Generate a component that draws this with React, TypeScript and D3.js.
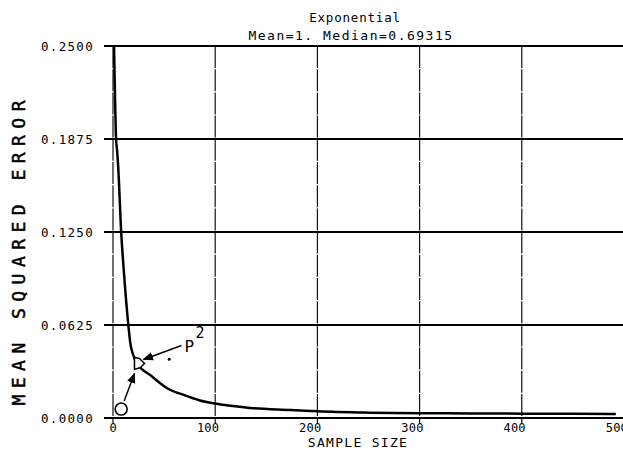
import React from "react";
import * as d3 from "d3";

const sampleSizes = [1, 2, 3, 4, 5, 8, 11, 15, 17, 20, 22, 28, 36, 45, 53, 69, 85, 100, 134, 174, 200, 250, 300, 350, 400, 450, 492];
const mseValues = [0.25, 0.215, 0.1875, 0.18, 0.17, 0.125, 0.095, 0.0625, 0.05, 0.042, 0.038, 0.033, 0.029, 0.024, 0.02, 0.0155, 0.0118, 0.0097, 0.0068, 0.0054, 0.0045, 0.0036, 0.0032, 0.0031, 0.0029, 0.0028, 0.0027];
const xTicks = [0, 100, 200, 300, 400, 500];
const yTicks = [0, 0.0625, 0.125, 0.1875, 0.25];
const yTickLabels = ["0.0000", "0.0625", "0.1250", "0.1875", "0.2500"];
const titleLines = ["Exponential", "Mean=1. Median=0.69315"];
const xLabel = "SAMPLE SIZE";
const yLabel = "MEAN  SQUARED  ERROR";

const W = 623;
const H = 456;
const FONT = "'DejaVu Sans Mono', monospace";

export default function App() {
  const x = d3.scaleLinear().domain([0, 500]).range([113, 624]);
  const y = d3.scaleLinear().domain([0, 0.25]).range([418, 46]);
  const pts: [number, number][] = sampleSizes.map((n, i) => [n, mseValues[i]]);
  const line = d3
    .line<[number, number]>()
    .x((d) => x(d[0]))
    .y((d) => y(d[1]))
    .curve(d3.curveMonotoneX);

  // annotation anchor on the curve
  const ax = x(22);
  const ay = y(0.038);

  return (
    <svg
      width={W}
      height={H}
      style={{ position: "absolute", left: 0, top: 0, background: "#fff" }}
      fontFamily={FONT}
    >
      <defs>
        <marker id="arr" viewBox="0 0 10 10" refX="9" refY="5" markerWidth="7" markerHeight="7" orient="auto">
          <path d="M0,1 L10,5 L0,9 Z" fill="#000" />
        </marker>
        <clipPath id="plot">
          <rect x={x(0)} y={y(0.25)} width={W - x(0)} height={y(0) - y(0.25)} />
        </clipPath>
      </defs>
      <rect width={W} height={H} fill="#fff" />

      {/* vertical grid lines */}
      {xTicks.map((t) => (
        <line
          key={"vx" + t}
          x1={x(t)}
          x2={x(t)}
          y1={y(0.25)}
          y2={y(0) + 5}
          stroke="#111"
          strokeWidth={1.2}
          strokeDasharray="22 1.2"
        />
      ))}
      {/* horizontal grid lines */}
      {yTicks.map((t) => (
        <line key={"hy" + t} x1={x(0) - 9} x2={W} y1={y(t)} y2={y(t)} stroke="#000" strokeWidth={2} />
      ))}

      {/* y tick labels */}
      {yTicks.map((t, i) => (
        <text key={"yl" + t} x={94} y={y(t) + 4.5} textAnchor="end" fontSize={12.5} letterSpacing={1.3} fill="#000">
          {yTickLabels[i]}
        </text>
      ))}
      {/* x tick labels */}
      {xTicks.map((t) => (
        <text key={"xl" + t} x={x(t) + 4} y={432} textAnchor="end" fontSize={12} letterSpacing={0.2} fill="#000">
          {String(t)}
        </text>
      ))}

      {/* titles */}
      <text x={355} y={22} textAnchor="middle" fontSize={12.5} letterSpacing={0.8} fill="#000">
        {titleLines[0]}
      </text>
      <text x={351} y={40} textAnchor="middle" fontSize={13} letterSpacing={1.5} fill="#000">
        {titleLines[1]}
      </text>

      {/* axis labels */}
      <text x={358} y={447} textAnchor="middle" fontSize={13} letterSpacing={1.3} fill="#000">
        {xLabel}
      </text>
      <text
        transform={`translate(25,${253}) rotate(-90)`}
        textAnchor="middle"
        fontSize={18}
        textLength={305}
        lengthAdjust="spacing"
        fill="#000"
        stroke="#000"
        strokeWidth={0.5}
      >
        {yLabel}
      </text>

      {/* curve */}
      <path d={line(pts) || ""} fill="none" stroke="#000" strokeWidth={2.5} clipPath="url(#plot)" />

      {/* annotations */}
      <path
        d={`M${ax - 1},${ay - 4} L${ax - 1},${ay + 8} L${ax + 5},${ay + 6} L${ax + 9},${ay + 2} L${ax + 4},${ay - 3} Z`}
        fill="#fff"
        stroke="#000"
        strokeWidth={1.5}
      />
      <circle cx={x(8)} cy={y(0.006)} r={6} fill="#fff" stroke="#000" strokeWidth={1.6} />
      <line x1={x(8) + 3} y1={y(0.006) - 8} x2={ax - 1} y2={ay + 12} stroke="#000" strokeWidth={1.5} markerEnd="url(#arr)" />
      <line x1={ax + 46} y1={ay - 16} x2={ax + 8} y2={ay - 2} stroke="#000" strokeWidth={1.5} markerEnd="url(#arr)" />
      <text x={ax + 49} y={ay - 9} fontSize={16} fill="#000">P</text>
      <text x={ax + 60} y={ay - 23} fontSize={15} fill="#000">2</text>
      <circle cx={x(55)} cy={y(0.0395)} r={1.5} fill="#000" />
    </svg>
  );
}
